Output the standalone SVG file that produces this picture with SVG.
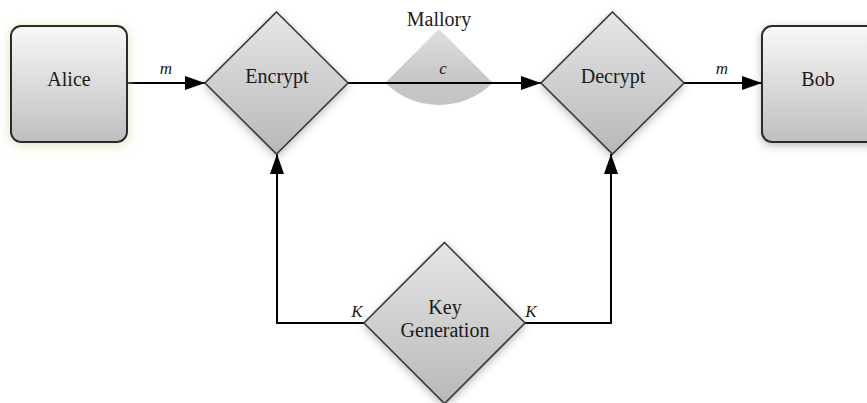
<svg xmlns="http://www.w3.org/2000/svg" width="867" height="403" viewBox="0 0 867 403">
  <style>
    text { font-family: "Liberation Serif", "Times New Roman", "Noto Serif", serif; fill: #1a1a1a; text-anchor: middle; }
    .lbl { font-size: 20px; }
    .var { font-size: 17px; font-style: italic; }
    .box { fill: url(#boxFill); stroke: #2b2b2b; stroke-width: 2; }
    .dia { fill: url(#diaFill); stroke: #3a3a3a; stroke-width: 1.6; stroke-linejoin: miter; }
    .edge { fill: none; stroke: #000; stroke-width: 2; }
  </style>
  <defs>
    <linearGradient id="boxFill" x1="0" y1="0" x2="0" y2="1">
      <stop offset="0" stop-color="#f8f8f8"/>
      <stop offset="1" stop-color="#bfbfbf"/>
    </linearGradient>
    <linearGradient id="diaFill" x1="0" y1="0" x2="0" y2="1">
      <stop offset="0" stop-color="#e6e6e6"/>
      <stop offset="1" stop-color="#b8b8b8"/>
    </linearGradient>
    <linearGradient id="sectorFill" x1="0" y1="0" x2="0" y2="1">
      <stop offset="0" stop-color="#dedede"/>
      <stop offset="0.7" stop-color="#c6c6c6"/>
      <stop offset="1" stop-color="#c4c4c4"/>
    </linearGradient>
    <filter id="shadow" x="-30%" y="-30%" width="160%" height="160%">
      <feDropShadow dx="0" dy="3" stdDeviation="4" flood-color="#000" flood-opacity="0.25"/>
    </filter>
    <filter id="glow" x="-30%" y="-30%" width="160%" height="160%">
      <feDropShadow dx="0" dy="2" stdDeviation="6" flood-color="#d4d99a" flood-opacity="0.7"/>
    </filter>
    <marker id="arrow" markerUnits="userSpaceOnUse" markerWidth="20" markerHeight="14" refX="20" refY="7" orient="auto">
      <path d="M0,0 L20,7 L0,14 Z" fill="#000"/>
    </marker>
  </defs>

  <!-- eavesdropper sector sitting on the channel -->
  <g id="mallory">
    <path d="M439,29 L385.3,82.7 A76,76 0 0 0 492.7,82.7 Z" fill="url(#sectorFill)"/>
    <text class="lbl" x="439" y="26">Mallory</text>
  </g>

  <!-- connectors -->
  <g id="edges">
    <path class="edge" d="M127,83 H205" marker-end="url(#arrow)"/>
    <path class="edge" d="M348,83 H541" marker-end="url(#arrow)"/>
    <path class="edge" d="M684,83 H762" marker-end="url(#arrow)"/>
    <path class="edge" d="M364,323 H277 V154" marker-end="url(#arrow)"/>
    <path class="edge" d="M525,323 H611 V154" marker-end="url(#arrow)"/>
    <text class="var" x="166" y="74">m</text>
    <text class="var" x="443" y="74">c</text>
    <text class="var" x="722" y="74">m</text>
    <text class="var" x="357" y="317">K</text>
    <text class="var" x="531" y="317">K</text>
  </g>

  <g id="alice">
    <rect class="box" x="11" y="26" width="116" height="116" rx="10" filter="url(#glow)"/>
    <text class="lbl" x="69" y="86">Alice</text>
  </g>

  <g id="encrypt">
    <polygon class="dia" points="276.5,12 348,83 276.5,154 205,83" filter="url(#shadow)"/>
    <text class="lbl" x="277" y="83">Encrypt</text>
  </g>

  <g id="decrypt">
    <polygon class="dia" points="612.5,12 684,83 612.5,154 541,83" filter="url(#shadow)"/>
    <text class="lbl" x="613" y="83">Decrypt</text>
  </g>

  <g id="bob">
    <rect class="box" x="762" y="26" width="116" height="116" rx="10" filter="url(#shadow)"/>
    <text class="lbl" x="818" y="86">Bob</text>
  </g>

  <g id="keygen">
    <polygon class="dia" points="444.5,242.5 525,323 444.5,403.5 364,323" filter="url(#shadow)"/>
    <text class="lbl" x="445" y="314">Key</text>
    <text class="lbl" x="445" y="337">Generation</text>
  </g>
</svg>
